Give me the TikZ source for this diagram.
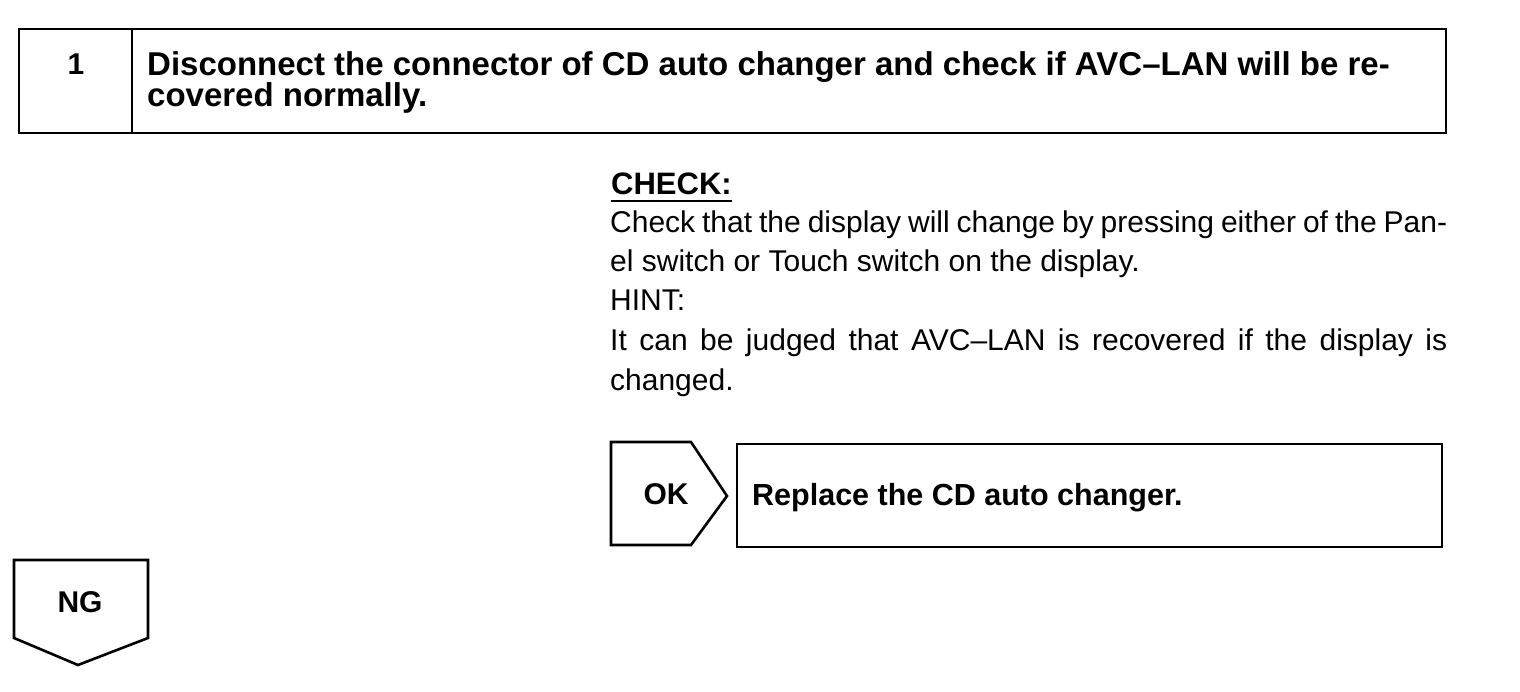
\documentclass[tikz,border=0pt]{standalone}
\usepackage{fontspec}
\setmainfont{Liberation Sans}
\begin{document}
\begin{tikzpicture}[x=1pt,y=-1pt,
  frame/.style={draw=black,line width=2.6pt,line join=miter},
  title/.style={font=\fontsize{33}{30}\selectfont\bfseries,anchor=base west,inner sep=0pt},
  body/.style={font=\fontsize{30}{39}\selectfont,anchor=base west,inner sep=0pt},
  label/.style={font=\fontsize{30}{30}\selectfont\bfseries,inner sep=0pt}]
\useasboundingbox (0,0) rectangle (1520,692);
% step header
\draw[frame] (19,29) rectangle (1446,133);
\draw[frame] (132,29) -- (132,133);
\node[label,font=\fontsize{30}{30}\selectfont\bfseries] (num) at (76,64) {1};
\node[title] (t1) at (147,76) {Disconnect the connector of CD auto changer and check if AVC--LAN will be re-};
\node[title] (t2) at (147,107) {covered normally.};
% check text
\node[body,font=\fontsize{31}{30}\selectfont\bfseries] (chk) at (611,195) {CHECK:};
\draw[line width=1.6pt] (chk.south west|-0,201) -- (chk.south east|-0,201);
\node[body] (l1) at (610,233) {\makebox[837pt][s]{Check that the display will change by pressing either of the Pan-}};
\node[body] (l2) at (610,272) {el switch or Touch switch on the display.};
\node[body] (l3) at (610,311) {HINT:};
\node[body] (l4) at (610,351) {\makebox[837pt][s]{It can be judged that AVC--LAN is recovered if the display is}};
\node[body] (l5) at (610,390) {changed.};
% OK branch
\draw[frame] (611,442) -- (691,442) -- (727,496) -- (691,545) -- (611,545) -- cycle;
\node[label] (ok) at (666,494) {OK};
\draw[frame] (737,444) rectangle (1442,547);
\node[title,font=\fontsize{30.5}{30}\selectfont\bfseries] (rep) at (752,505) {Replace the CD auto changer.};
% NG branch
\draw[frame] (14,560) -- (148,560) -- (148,638) -- (78,665) -- (14,638) -- cycle;
\node[label] (ng) at (80,602) {NG};
\end{tikzpicture}
\end{document}
